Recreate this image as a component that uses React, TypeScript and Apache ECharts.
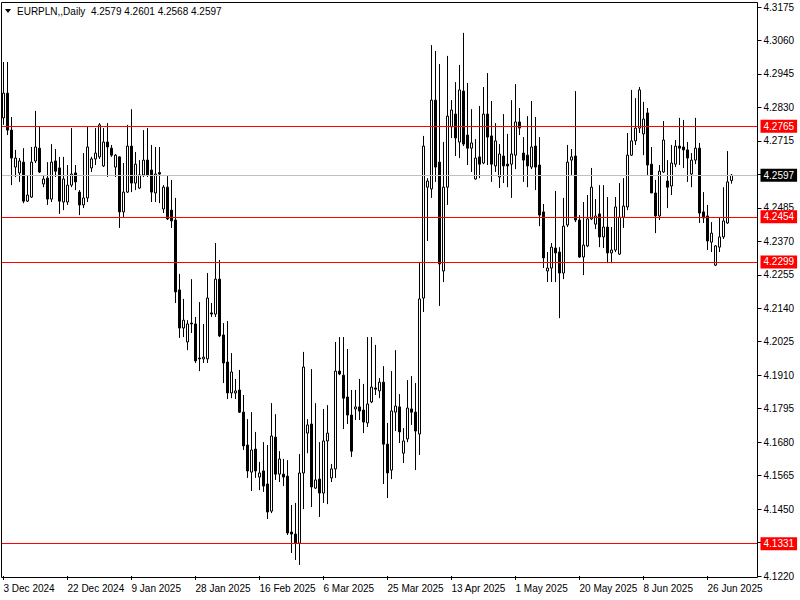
import React, { useEffect, useRef } from "react";
import * as echarts from "echarts";

const dateLabels = [
  "3 Dec 2024", "22 Dec 2024", "9 Jan 2025", "28 Jan 2025", "16 Feb 2025", "6 Mar 2025",
  "25 Mar 2025", "13 Apr 2025", "1 May 2025", "20 May 2025", "8 Jun 2025", "26 Jun 2025",
];
const labelEvery = 16;
const totalSlots = 189;

const opens = [
  4.2794, 4.2879, 4.2752, 4.2625, 4.2605, 4.2642, 4.2508, 4.2522, 4.2646, 4.2690,
  4.2567, 4.2587, 4.2515, 4.2646, 4.2622, 4.2505, 4.2505, 4.2563, 4.2605, 4.2539,
  4.2495, 4.2519, 4.2622, 4.2653, 4.2660, 4.2629, 4.2711, 4.2690, 4.2625, 4.2660,
  4.2471, 4.2539, 4.2697, 4.2570, 4.2553, 4.2598, 4.2649, 4.2615, 4.2536, 4.2606,
  4.2481, 4.2556, 4.2477, 4.2443, 4.2203, 4.2072, 4.2024, 4.2089, 4.2086, 4.1969,
  4.1966, 4.1966, 4.2124, 4.2120, 4.2240, 4.2048, 4.1955, 4.1849, 4.1849, 4.1859,
  4.1783, 4.1670, 4.1577, 4.1656, 4.1560, 4.1581, 4.1536, 4.1443, 4.1697, 4.1570,
  4.1570, 4.1563, 4.1371, 4.1364, 4.1333, 4.1574, 4.1711, 4.1742, 4.1522, 4.1553,
  4.1505, 4.1684, 4.1557, 4.1588, 4.1924, 4.1910, 4.1835, 4.1773, 4.1794, 4.1801,
  4.1790, 4.1746, 4.1818, 4.1866, 4.1856, 4.1886, 4.1673, 4.1584, 4.1783, 4.1801,
  4.1642, 4.1691, 4.1794, 4.1783, 4.1708, 4.2175, 4.2556, 4.2550, 4.2855, 4.2642,
  4.2268, 4.2556, 4.2763, 4.2807, 4.2711, 4.2886, 4.2735, 4.2690, 4.2584, 4.2660,
  4.2639, 4.2807, 4.2732, 4.2629, 4.2591, 4.2663, 4.2635, 4.2635, 4.2666, 4.2780,
  4.2673, 4.2666, 4.2625, 4.2697, 4.2632, 4.2471, 4.2268, 4.2278, 4.2347, 4.2333,
  4.2261, 4.2426, 4.2649, 4.2663, 4.2443, 4.2316, 4.2354, 4.2447, 4.2429, 4.2464,
  4.2385, 4.2419, 4.2330, 4.2340, 4.2326, 4.2453, 4.2488, 4.2666, 4.2715, 4.2759,
  4.2739, 4.2811, 4.2635, 4.2536, 4.2457, 4.2608, 4.2577, 4.2560, 4.2635, 4.2697,
  4.2694, 4.2684, 4.2601, 4.2649, 4.2690, 4.2471, 4.2457, 4.2367, 4.2288, 4.2350,
  4.2385, 4.2433, 4.2579,
];

const closes = [
  4.2879, 4.2752, 4.2656, 4.2656, 4.2646, 4.2508, 4.2529, 4.2642, 4.2694, 4.2608,
  4.2584, 4.2515, 4.2642, 4.2611, 4.2508, 4.2584, 4.2563, 4.2601, 4.2574, 4.2495,
  4.2519, 4.2694, 4.2653, 4.2673, 4.2770, 4.2711, 4.2694, 4.2666, 4.2666, 4.2471,
  4.2539, 4.2697, 4.2570, 4.2635, 4.2598, 4.2649, 4.2598, 4.2539, 4.2601, 4.2601,
  4.2556, 4.2447, 4.2440, 4.2196, 4.2072, 4.2099, 4.2086, 4.2086, 4.1959, 4.1966,
  4.1972, 4.2175, 4.2120, 4.2240, 4.2045, 4.1952, 4.1849, 4.1921, 4.1856, 4.1783,
  4.1667, 4.1581, 4.1653, 4.1581, 4.1574, 4.1529, 4.1440, 4.1701, 4.1570, 4.1622,
  4.1560, 4.1368, 4.1364, 4.1333, 4.1574, 4.1938, 4.1739, 4.1526, 4.1550, 4.1505,
  4.1684, 4.1711, 4.1588, 4.1924, 4.1914, 4.1831, 4.1773, 4.1649, 4.1801, 4.1787,
  4.1749, 4.1811, 4.1869, 4.1862, 4.1886, 4.1673, 4.1574, 4.1787, 4.1804, 4.1715,
  4.1684, 4.1797, 4.1783, 4.1718, 4.2172, 4.2697, 4.2577, 4.2855, 4.2625, 4.2292,
  4.2556, 4.2800, 4.2821, 4.2725, 4.2890, 4.2704, 4.2690, 4.2708, 4.2656, 4.2635,
  4.2807, 4.2728, 4.2635, 4.2715, 4.2670, 4.2629, 4.2629, 4.2670, 4.2780, 4.2759,
  4.2649, 4.2629, 4.2694, 4.2625, 4.2460, 4.2313, 4.2278, 4.2350, 4.2330, 4.2261,
  4.2422, 4.2642, 4.2660, 4.2443, 4.2316, 4.2357, 4.2447, 4.2556, 4.2457, 4.2385,
  4.2419, 4.2330, 4.2340, 4.2488, 4.2453, 4.2491, 4.2666, 4.2715, 4.2759, 4.2890,
  4.2790, 4.2632, 4.2536, 4.2457, 4.2611, 4.2718, 4.2556, 4.2639, 4.2697, 4.2690,
  4.2684, 4.2656, 4.2649, 4.2690, 4.2467, 4.2450, 4.2371, 4.2398, 4.2354, 4.2385,
  4.2440, 4.2574, 4.2597,
];

const lows = [
  4.2770, 4.2735, 4.2563, 4.2591, 4.2574, 4.2501, 4.2505, 4.2519, 4.2639, 4.2605,
  4.2556, 4.2495, 4.2505, 4.2591, 4.2464, 4.2477, 4.2495, 4.2556, 4.2546, 4.2460,
  4.2484, 4.2505, 4.2608, 4.2632, 4.2653, 4.2625, 4.2591, 4.2660, 4.2591, 4.2416,
  4.2450, 4.2536, 4.2539, 4.2546, 4.2550, 4.2591, 4.2591, 4.2505, 4.2505, 4.2501,
  4.2467, 4.2443, 4.2416, 4.2158, 4.2038, 4.2041, 4.1996, 4.2055, 4.1952, 4.1924,
  4.1952, 4.1952, 4.2110, 4.2110, 4.2041, 4.1883, 4.1828, 4.1831, 4.1828, 4.1780,
  4.1653, 4.1557, 4.1512, 4.1557, 4.1515, 4.1509, 4.1416, 4.1436, 4.1550, 4.1543,
  4.1529, 4.1361, 4.1299, 4.1275, 4.1258, 4.1450, 4.1642, 4.1457, 4.1519, 4.1423,
  4.1471, 4.1467, 4.1543, 4.1557, 4.1910, 4.1725, 4.1742, 4.1629, 4.1756, 4.1756,
  4.1711, 4.1732, 4.1814, 4.1842, 4.1831, 4.1536, 4.1488, 4.1553, 4.1718, 4.1677,
  4.1608, 4.1680, 4.1739, 4.1584, 4.1636, 4.2127, 4.2371, 4.2519, 4.2574, 4.2148,
  4.2230, 4.2495, 4.2725, 4.2663, 4.2656, 4.2697, 4.2632, 4.2608, 4.2582, 4.2587,
  4.2635, 4.2632, 4.2574, 4.2608, 4.2553, 4.2570, 4.2556, 4.2519, 4.2618, 4.2735,
  4.2574, 4.2556, 4.2618, 4.2546, 4.2422, 4.2278, 4.2230, 4.2230, 4.2230, 4.2106,
  4.2240, 4.2419, 4.2598, 4.2436, 4.2313, 4.2254, 4.2350, 4.2443, 4.2412, 4.2350,
  4.2347, 4.2295, 4.2295, 4.2333, 4.2323, 4.2416, 4.2477, 4.2663, 4.2701, 4.2742,
  4.2666, 4.2598, 4.2536, 4.2398, 4.2443, 4.2605, 4.2484, 4.2529, 4.2625, 4.2632,
  4.2622, 4.2574, 4.2556, 4.2635, 4.2433, 4.2433, 4.2340, 4.2333, 4.2285, 4.2333,
  4.2378, 4.2430, 4.2568,
];

const highs = [
  4.2986, 4.2986, 4.2797, 4.2684, 4.2656, 4.2690, 4.2598, 4.2694, 4.2818, 4.2763,
  4.2598, 4.2642, 4.2704, 4.2687, 4.2660, 4.2660, 4.2632, 4.2759, 4.2632, 4.2546,
  4.2673, 4.2763, 4.2660, 4.2759, 4.2776, 4.2759, 4.2776, 4.2701, 4.2670, 4.2662,
  4.2639, 4.2770, 4.2824, 4.2677, 4.2649, 4.2752, 4.2759, 4.2701, 4.2694, 4.2694,
  4.2563, 4.2594, 4.2581, 4.2519, 4.2258, 4.2172, 4.2099, 4.2240, 4.2110, 4.2161,
  4.2086, 4.2261, 4.2158, 4.2364, 4.2306, 4.2089, 4.2096, 4.1986, 4.1897, 4.1928,
  4.1842, 4.1759, 4.1783, 4.1715, 4.1612, 4.1680, 4.1670, 4.1814, 4.1776, 4.1649,
  4.1622, 4.1618, 4.1464, 4.1471, 4.1639, 4.1990, 4.1759, 4.1931, 4.1814, 4.1680,
  4.1794, 4.1807, 4.1605, 4.2024, 4.2041, 4.2041, 4.2000, 4.1859, 4.1859, 4.1897,
  4.1880, 4.2041, 4.2041, 4.2014, 4.1900, 4.1941, 4.1746, 4.1924, 4.1996, 4.1845,
  4.1728, 4.1893, 4.1907, 4.1883, 4.2299, 4.2732, 4.2587, 4.3044, 4.3024, 4.2979,
  4.2711, 4.3007, 4.2855, 4.2917, 4.2976, 4.3086, 4.2914, 4.2824, 4.2721, 4.2835,
  4.2900, 4.2948, 4.2852, 4.2776, 4.2704, 4.2807, 4.2739, 4.2855, 4.2910, 4.2828,
  4.2728, 4.2800, 4.2852, 4.2797, 4.2728, 4.2498, 4.2333, 4.2364, 4.2543, 4.2350,
  4.2519, 4.2701, 4.2687, 4.2886, 4.2460, 4.2505, 4.2529, 4.2622, 4.2515, 4.2563,
  4.2563, 4.2522, 4.2419, 4.2522, 4.2570, 4.2587, 4.2742, 4.2890, 4.2862, 4.2900,
  4.2849, 4.2828, 4.2694, 4.2581, 4.2632, 4.2783, 4.2649, 4.2701, 4.2718, 4.2794,
  4.2787, 4.2711, 4.2673, 4.2794, 4.2708, 4.2539, 4.2495, 4.2436, 4.2357, 4.2453,
  4.2556, 4.2680, 4.2601,
];

const redLevels = [4.2765, 4.2454, 4.2299, 4.1331];
const currentPrice = 4.2597;
const titleText = "EURPLN,,Daily  4.2579 4.2601 4.2568 4.2597";

const FONT = "'Liberation Sans', Arial, sans-serif";

function buildOption() {
  const categories = Array.from({ length: totalSlots }, (_, i) => String(i));
  const candles = opens.map((o, i) => [o, closes[i], lows[i], highs[i]]);
  const isLabel = (i: number) => i % labelEvery === 0 && i / labelEvery < dateLabels.length;

  const levelLine = (value: number, color: string, bg: string) => ({
    yAxis: value,
    lineStyle: { color, width: 1, type: "solid" },
    label: {
      show: true,
      position: "end",
      distance: 3,
      formatter: () => value.toFixed(4),
      color: "#fff",
      backgroundColor: bg,
      padding: [2, 3, 1, 3],
      fontSize: 10,
      fontFamily: FONT,
    },
  });

  return {
    animation: false,
    backgroundColor: "#ffffff",
    grid: { left: 1.5, width: 756, top: 7, height: 569 },
    xAxis: {
      type: "category",
      data: categories,
      boundaryGap: true,
      axisLine: { show: false },
      axisTick: {
        show: true,
        alignWithLabel: true,
        interval: (i: number) => isLabel(i),
        length: 4,
        lineStyle: { color: "#000" },
      },
      axisLabel: {
        interval: (i: number) => isLabel(i),
        formatter: (_v: string, i: number) => (isLabel(i) ? dateLabels[i / labelEvery] : ""),
        align: "left",
        margin: 7,
        color: "#000",
        fontSize: 10,
        fontFamily: FONT,
      },
      splitLine: { show: false },
    },
    yAxis: {
      type: "value",
      position: "right",
      min: 4.122,
      max: 4.3175,
      interval: 0.0115,
      axisLine: { show: false },
      axisTick: { show: true, length: 4, lineStyle: { color: "#000" } },
      axisLabel: {
        formatter: (v: number) => v.toFixed(4),
        margin: 6,
        color: "#000",
        fontSize: 10,
        fontFamily: FONT,
      },
      splitLine: { show: false },
    },
    series: [
      {
        type: "candlestick",
        data: candles,
        barWidth: 2,
        itemStyle: {
          color: "#ffffff",
          color0: "#000000",
          borderColor: "#000000",
          borderColor0: "#000000",
          borderWidth: 1,
        },
        markLine: {
          silent: true,
          precision: 4,
          symbol: ["none", "none"],
          animation: false,
          data: [
            ...redLevels.map((v) => levelLine(v, "#ff0000", "#ff0000")),
            levelLine(currentPrice, "#c0c0c0", "#000000"),
          ],
        },
      },
    ],
    graphic: [
      {
        type: "rect",
        shape: { x: 1.5, y: 2.5, width: 756, height: 575 },
        style: { fill: "none", stroke: "#000", lineWidth: 1 },
        z: 100,
        silent: true,
      },
      {
        type: "polygon",
        shape: { points: [[5, 9], [11, 9], [8, 13]] },
        style: { fill: "#000" },
        z: 100,
      },
      {
        type: "text",
        x: 17,
        y: 11,
        style: {
          text: titleText,
          fill: "#000",
          fontSize: 10,
          fontFamily: FONT,
          verticalAlign: "middle",
          align: "left",
        },
        z: 100,
      },
    ],
  };
}

export default function App() {
  const ref = useRef<HTMLDivElement>(null);
  useEffect(() => {
    if (!ref.current) return;
    const chart = echarts.init(ref.current, undefined, { renderer: "svg" });
    chart.setOption(buildOption() as any);
    return () => chart.dispose();
  }, []);
  return (
    <div
      ref={ref}
      style={{ position: "absolute", left: 0, top: 0, width: 800, height: 600, background: "#fff" }}
    />
  );
}
